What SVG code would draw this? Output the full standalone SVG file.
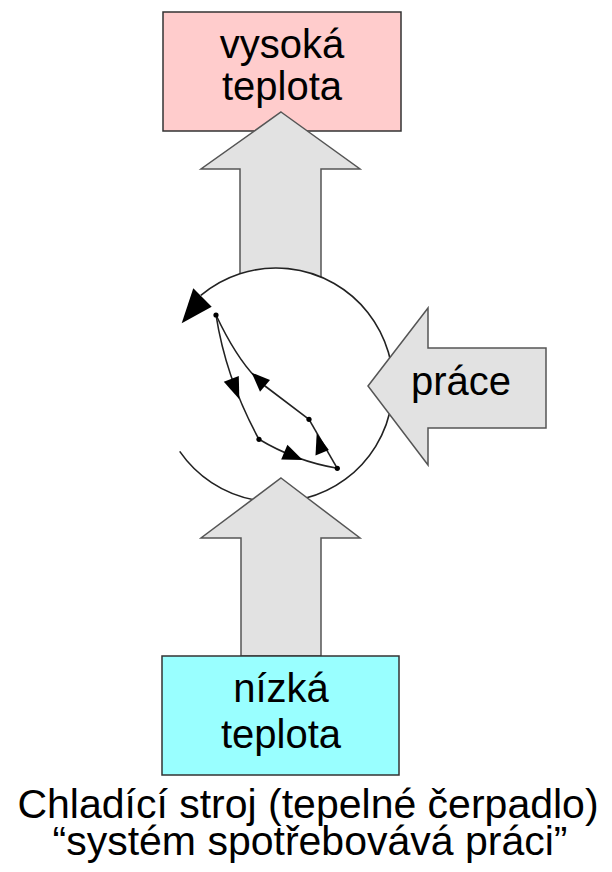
<svg xmlns="http://www.w3.org/2000/svg" width="612" height="872" viewBox="0 0 612 872">
<style>
.box{stroke:#333;stroke-width:1.5}
.big{stroke:#555;stroke-width:1.5;fill:#E2E2E2;stroke-linejoin:miter}
.t{font-family:"Liberation Sans",Arial,sans-serif;font-size:40px;fill:#000;text-anchor:middle}
.cap{font-family:"Liberation Sans",Arial,sans-serif;font-size:41px;fill:#000;text-anchor:middle}
.ln{fill:none;stroke:#222;stroke-width:1.6}
.ah{fill:#000;stroke:none}
</style>
<rect width="612" height="872" fill="#fff"/>
<g id="hot">
<rect class="box" x="163" y="12" width="238" height="119" fill="#FFCCCC"/>
<text class="t" x="282" y="58">vysoká</text>
<text class="t" x="282" y="100">teplota</text>
</g>
<g id="arrow-up-top">
<polygon class="big" points="281,112 360,169 321,169 321,300 240,300 240,169 201,169"/>
</g>
<g id="cycle">
<circle cx="276" cy="385" r="117" fill="#fff"/>
<path class="ln" d="M179.7,451.4 A117,117 0 1 0 200.8,295.4" stroke-width="1.4"/>
<polygon class="ah" points="181.7,323.3 193.3,288.3 211.7,306.7"/>
<path class="ln" d="M216,315 Q226,379 259,439.3"/>
<path class="ln" d="M259,439.3 Q295,461 337.3,468.3"/>
<path class="ln" d="M337.3,468.3 L309,419.3"/>
<path class="ln" d="M309,419.3 L265,386 Q240,366 216,315"/>
<polygon class="ah" points="239.3,399.3 223.8,381.7 238.8,375.9"/>
<polygon class="ah" points="302.7,460 287.4,444.8 281.2,459.6"/>
<polygon class="ah" points="316.7,433.3 315.5,455.5 328.8,450"/>
<polygon class="ah" points="251.7,372.7 270,380 260,391.7"/>
<circle cx="216" cy="315" r="2.6" fill="#000"/>
<circle cx="309" cy="419.3" r="2.6" fill="#000"/>
<circle cx="337.3" cy="468.3" r="2.6" fill="#000"/>
<circle cx="259" cy="439.3" r="2.6" fill="#000"/>
</g>
<g id="work">
<polygon class="big" points="368,386 428,308 428,348 546,348 546,428 428,428 428,465"/>
<text class="t" x="461" y="395">práce</text>
</g>
<g id="arrow-up-bottom">
<polygon class="big" points="281,478 360,538 321,538 321,656 241,656 241,538 201,538"/>
</g>
<g id="cold">
<rect class="box" x="162" y="656" width="237" height="119" fill="#99FFFF"/>
<text class="t" x="281" y="702">nízká</text>
<text class="t" x="281" y="748">teplota</text>
</g>
<g id="caption">
<text class="cap" x="308" y="818">Chladící stroj (tepelné čerpadlo)</text>
<text class="cap" x="310" y="855">“systém spotřebovává práci”</text>
</g>
</svg>
